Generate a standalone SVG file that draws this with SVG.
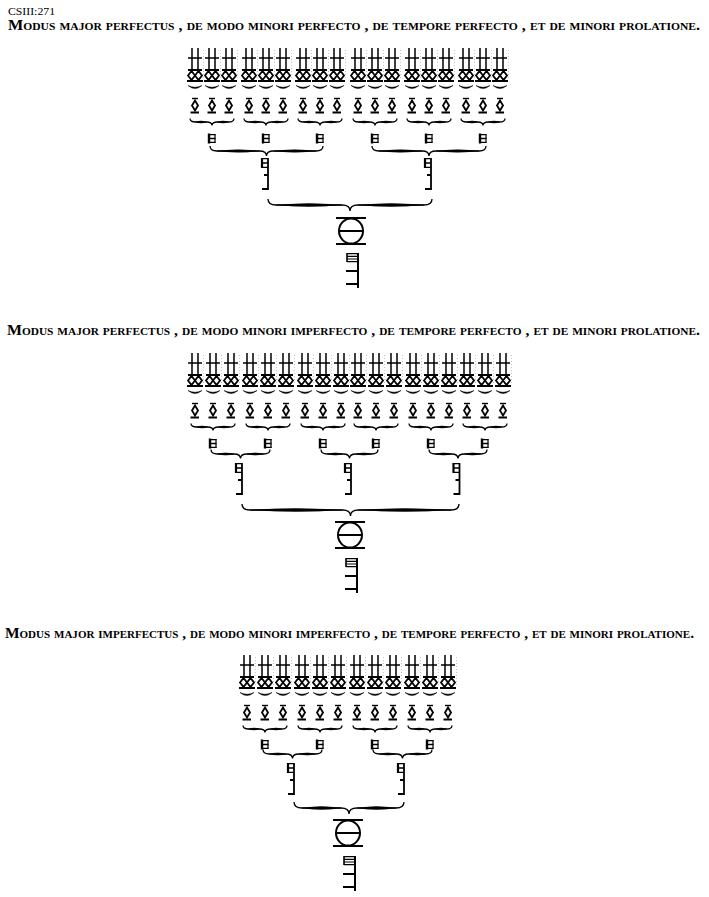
<svg xmlns="http://www.w3.org/2000/svg" width="709" height="897" viewBox="0 0 709 897">
<style>
.k{fill:none;stroke:#000}
.f{fill:#000;stroke:#000;stroke-width:0.5}
.t{font-family:"Liberation Serif","Times New Roman",serif;font-weight:bold;font-size:14px;font-variant:small-caps;fill:#000}
.c{font-family:"Liberation Serif","Times New Roman",serif;font-size:10.5px;fill:#000}
.br{fill:none;stroke:#000;stroke-width:1.3}
</style>
<defs>
<g id="minims" class="k">
<path d="M-3,0V22M3,0V22M-7,10H7" stroke-width="1.5"/>
<path d="M-7,22H7M-8,33H8" stroke-width="2"/>
<path d="M-7,27.5L-3.5,23L0,27.5L3.5,32L7,27.5L3.5,23L0,27.5L-3.5,32Z" stroke-width="1.8"/>
<path d="M8.5,2V30" stroke-width="0.6" stroke-dasharray="0.8 2.2" stroke="#888"/>
</g>
<g id="sb" class="k">
<path d="M-3,0.5H3" stroke-width="1.4"/>
<path d="M0,2.5L3,7.5L0,12.5L-3,7.5Z" stroke-width="1.8"/>
<path d="M-4.5,14.5H4" stroke-width="2"/>
</g>
<g id="breve" class="k">
<path d="M-3,-0.5V9.5" stroke-width="2.4"/>
<path d="M3,0V9" stroke-width="1.2"/>
<path d="M-3,0.6H3.5M-3,4.5H3.5M-3,8.4H3.5" stroke-width="1.4"/>
</g>
<g id="longa" class="k">
<path d="M0,0V32" stroke-width="1.8"/>
<path d="M-6,0V10" stroke-width="2.2"/>
<path d="M-6,0.6H0M-6,5H0M-6,9.4H0" stroke-width="1.4"/>
<path d="M-4,17H0M-6,31H0" stroke-width="2"/>
</g>
<g id="maxima" class="k" stroke-width="2">
<ellipse rx="12" ry="12.5"/>
<path d="M-12,0H12M-15,-13H15M-15,13H15"/>
</g>
<g id="longab" class="k">
<path d="M0,0V35" stroke-width="2"/>
<path d="M-11,0V9" stroke-width="1.6"/>
<path d="M-11,0.6H0M-11,3.3H0M-11,6H0M-11,8.7H0" stroke-width="1.2"/>
<path d="M-12,18H0M-12,31H0" stroke-width="2"/>
</g>
<g id="sbr"><path class="f" d="M-7,-0.5Q0,5.5 7,-0.5Q0,3 -7,-0.5Z"/></g>
<g id="gbr"><path class="br" d="M-22,-3.5C-22,-1.2 -20,0 -16.5,0L-5.5,0C-2,0 0,1.2 0,3.5C0,1.2 2,0 5.5,0L16.5,0C20,0 22,-1.2 22,-3.5"/><path class="f" d="M-16.5,0Q-11,-2 -5.5,0Q-11,2 -16.5,0ZM5.5,0Q11,-2 16.5,0Q11,2 5.5,0Z"/></g>
</defs>
<rect width="709" height="897" fill="#fff"/>

<text class="c" x="8" y="15" textLength="47" lengthAdjust="spacingAndGlyphs">CSIII:271</text>
<text class="t" x="8" y="30" textLength="692" lengthAdjust="spacingAndGlyphs">Modus major perfectus , de modo minori perfecto , de tempore perfecto , et de minori prolatione.</text>
<text class="t" x="7" y="335" textLength="693" lengthAdjust="spacingAndGlyphs">Modus major perfectus , de modo minori imperfecto , de tempore perfecto , et de minori prolatione.</text>
<text class="t" x="5" y="638" textLength="689" lengthAdjust="spacingAndGlyphs">Modus major imperfectus , de modo minori imperfecto , de tempore perfecto , et de minori prolatione.</text>

<!-- Section 1 nodes -->
<g id="s1-minims">
<g id="s1-m1"><use href="#minims" x="195" y="48"/></g>
<g id="s1-m2"><use href="#minims" x="212" y="48"/></g>
<g id="s1-m3"><use href="#minims" x="229" y="48"/></g>
<g id="s1-m4"><use href="#minims" x="249" y="48"/></g>
<g id="s1-m5"><use href="#minims" x="266" y="48"/></g>
<g id="s1-m6"><use href="#minims" x="283" y="48"/></g>
<g id="s1-m7"><use href="#minims" x="303" y="48"/></g>
<g id="s1-m8"><use href="#minims" x="320" y="48"/></g>
<g id="s1-m9"><use href="#minims" x="337" y="48"/></g>
<g id="s1-m10"><use href="#minims" x="358" y="48"/></g>
<g id="s1-m11"><use href="#minims" x="375" y="48"/></g>
<g id="s1-m12"><use href="#minims" x="392" y="48"/></g>
<g id="s1-m13"><use href="#minims" x="412" y="48"/></g>
<g id="s1-m14"><use href="#minims" x="429" y="48"/></g>
<g id="s1-m15"><use href="#minims" x="446" y="48"/></g>
<g id="s1-m16"><use href="#minims" x="466" y="48"/></g>
<g id="s1-m17"><use href="#minims" x="483" y="48"/></g>
<g id="s1-m18"><use href="#minims" x="500" y="48"/></g>
</g>
<g id="s1-semibreves">
<g id="s1-sb1"><use href="#sb" x="195" y="98"/></g>
<g id="s1-sb2"><use href="#sb" x="212" y="98"/></g>
<g id="s1-sb3"><use href="#sb" x="229" y="98"/></g>
<g id="s1-sb4"><use href="#sb" x="249" y="98"/></g>
<g id="s1-sb5"><use href="#sb" x="266" y="98"/></g>
<g id="s1-sb6"><use href="#sb" x="283" y="98"/></g>
<g id="s1-sb7"><use href="#sb" x="303" y="98"/></g>
<g id="s1-sb8"><use href="#sb" x="320" y="98"/></g>
<g id="s1-sb9"><use href="#sb" x="337" y="98"/></g>
<g id="s1-sb10"><use href="#sb" x="358" y="98"/></g>
<g id="s1-sb11"><use href="#sb" x="375" y="98"/></g>
<g id="s1-sb12"><use href="#sb" x="392" y="98"/></g>
<g id="s1-sb13"><use href="#sb" x="412" y="98"/></g>
<g id="s1-sb14"><use href="#sb" x="429" y="98"/></g>
<g id="s1-sb15"><use href="#sb" x="446" y="98"/></g>
<g id="s1-sb16"><use href="#sb" x="466" y="98"/></g>
<g id="s1-sb17"><use href="#sb" x="483" y="98"/></g>
<g id="s1-sb18"><use href="#sb" x="500" y="98"/></g>
</g>
<g id="s1-breves">
<g id="s1-b1"><use href="#breve" x="212" y="134"/></g>
<g id="s1-b2"><use href="#breve" x="266" y="134"/></g>
<g id="s1-b3"><use href="#breve" x="320" y="134"/></g>
<g id="s1-b4"><use href="#breve" x="375" y="134"/></g>
<g id="s1-b5"><use href="#breve" x="429" y="134"/></g>
<g id="s1-b6"><use href="#breve" x="483" y="134"/></g>
</g>
<g id="s1-l1"><use href="#longa" x="268" y="158"/></g>
<g id="s1-l2"><use href="#longa" x="431" y="158"/></g>
<g id="s1-max"><use href="#maxima" x="351" y="231"/></g>
<g id="s1-sign"><use href="#longab" x="358" y="253"/></g>

<!-- Section 2 nodes -->
<g id="s2-minims">
<g id="s2-m1"><use href="#minims" x="195" y="353"/></g>
<g id="s2-m2"><use href="#minims" x="213" y="353"/></g>
<g id="s2-m3"><use href="#minims" x="231" y="353"/></g>
<g id="s2-m4"><use href="#minims" x="250" y="353"/></g>
<g id="s2-m5"><use href="#minims" x="268" y="353"/></g>
<g id="s2-m6"><use href="#minims" x="286" y="353"/></g>
<g id="s2-m7"><use href="#minims" x="305" y="353"/></g>
<g id="s2-m8"><use href="#minims" x="323" y="353"/></g>
<g id="s2-m9"><use href="#minims" x="341" y="353"/></g>
<g id="s2-m10"><use href="#minims" x="358" y="353"/></g>
<g id="s2-m11"><use href="#minims" x="376" y="353"/></g>
<g id="s2-m12"><use href="#minims" x="394" y="353"/></g>
<g id="s2-m13"><use href="#minims" x="413" y="353"/></g>
<g id="s2-m14"><use href="#minims" x="431" y="353"/></g>
<g id="s2-m15"><use href="#minims" x="449" y="353"/></g>
<g id="s2-m16"><use href="#minims" x="467" y="353"/></g>
<g id="s2-m17"><use href="#minims" x="485" y="353"/></g>
<g id="s2-m18"><use href="#minims" x="503" y="353"/></g>
</g>
<g id="s2-semibreves">
<g id="s2-sb1"><use href="#sb" x="195" y="403"/></g>
<g id="s2-sb2"><use href="#sb" x="213" y="403"/></g>
<g id="s2-sb3"><use href="#sb" x="231" y="403"/></g>
<g id="s2-sb4"><use href="#sb" x="250" y="403"/></g>
<g id="s2-sb5"><use href="#sb" x="268" y="403"/></g>
<g id="s2-sb6"><use href="#sb" x="286" y="403"/></g>
<g id="s2-sb7"><use href="#sb" x="305" y="403"/></g>
<g id="s2-sb8"><use href="#sb" x="323" y="403"/></g>
<g id="s2-sb9"><use href="#sb" x="341" y="403"/></g>
<g id="s2-sb10"><use href="#sb" x="358" y="403"/></g>
<g id="s2-sb11"><use href="#sb" x="376" y="403"/></g>
<g id="s2-sb12"><use href="#sb" x="394" y="403"/></g>
<g id="s2-sb13"><use href="#sb" x="413" y="403"/></g>
<g id="s2-sb14"><use href="#sb" x="431" y="403"/></g>
<g id="s2-sb15"><use href="#sb" x="449" y="403"/></g>
<g id="s2-sb16"><use href="#sb" x="467" y="403"/></g>
<g id="s2-sb17"><use href="#sb" x="485" y="403"/></g>
<g id="s2-sb18"><use href="#sb" x="503" y="403"/></g>
</g>
<g id="s2-breves">
<g id="s2-b1"><use href="#breve" x="213" y="439"/></g>
<g id="s2-b2"><use href="#breve" x="268" y="439"/></g>
<g id="s2-b3"><use href="#breve" x="323" y="439"/></g>
<g id="s2-b4"><use href="#breve" x="376" y="439"/></g>
<g id="s2-b5"><use href="#breve" x="431" y="439"/></g>
<g id="s2-b6"><use href="#breve" x="485" y="439"/></g>
</g>
<g id="s2-l1"><use href="#longa" x="242" y="463"/></g>
<g id="s2-l2"><use href="#longa" x="351" y="463"/></g>
<g id="s2-l3"><use href="#longa" x="459.5" y="463"/></g>
<g id="s2-max"><use href="#maxima" x="350" y="535"/></g>
<g id="s2-sign"><use href="#longab" x="357" y="558"/></g>

<!-- Section 3 nodes -->
<g id="s3-minims">
<g id="s3-m1"><use href="#minims" x="247" y="655"/></g>
<g id="s3-m2"><use href="#minims" x="265" y="655"/></g>
<g id="s3-m3"><use href="#minims" x="283" y="655"/></g>
<g id="s3-m4"><use href="#minims" x="302" y="655"/></g>
<g id="s3-m5"><use href="#minims" x="320" y="655"/></g>
<g id="s3-m6"><use href="#minims" x="338" y="655"/></g>
<g id="s3-m7"><use href="#minims" x="357" y="655"/></g>
<g id="s3-m8"><use href="#minims" x="375" y="655"/></g>
<g id="s3-m9"><use href="#minims" x="393" y="655"/></g>
<g id="s3-m10"><use href="#minims" x="412" y="655"/></g>
<g id="s3-m11"><use href="#minims" x="430" y="655"/></g>
<g id="s3-m12"><use href="#minims" x="448" y="655"/></g>
</g>
<g id="s3-semibreves">
<g id="s3-sb1"><use href="#sb" x="247" y="705"/></g>
<g id="s3-sb2"><use href="#sb" x="265" y="705"/></g>
<g id="s3-sb3"><use href="#sb" x="283" y="705"/></g>
<g id="s3-sb4"><use href="#sb" x="302" y="705"/></g>
<g id="s3-sb5"><use href="#sb" x="320" y="705"/></g>
<g id="s3-sb6"><use href="#sb" x="338" y="705"/></g>
<g id="s3-sb7"><use href="#sb" x="357" y="705"/></g>
<g id="s3-sb8"><use href="#sb" x="375" y="705"/></g>
<g id="s3-sb9"><use href="#sb" x="393" y="705"/></g>
<g id="s3-sb10"><use href="#sb" x="412" y="705"/></g>
<g id="s3-sb11"><use href="#sb" x="430" y="705"/></g>
<g id="s3-sb12"><use href="#sb" x="448" y="705"/></g>
</g>
<g id="s3-breves">
<g id="s3-b1"><use href="#breve" x="265" y="740"/></g>
<g id="s3-b2"><use href="#breve" x="320" y="740"/></g>
<g id="s3-b3"><use href="#breve" x="375" y="740"/></g>
<g id="s3-b4"><use href="#breve" x="430" y="740"/></g>
</g>
<g id="s3-l1"><use href="#longa" x="294" y="763"/></g>
<g id="s3-l2"><use href="#longa" x="404" y="763"/></g>
<g id="s3-max"><use href="#maxima" x="348" y="833"/></g>
<g id="s3-sign"><use href="#longab" x="355" y="856"/></g>

<!-- Connectors (braces) -->
<g id="connectors">
<g id="s1-small-braces">
<use href="#sbr" x="195" y="86"/><use href="#sbr" x="212" y="86"/><use href="#sbr" x="229" y="86"/>
<use href="#sbr" x="249" y="86"/><use href="#sbr" x="266" y="86"/><use href="#sbr" x="283" y="86"/>
<use href="#sbr" x="303" y="86"/><use href="#sbr" x="320" y="86"/><use href="#sbr" x="337" y="86"/>
<use href="#sbr" x="358" y="86"/><use href="#sbr" x="375" y="86"/><use href="#sbr" x="392" y="86"/>
<use href="#sbr" x="412" y="86"/><use href="#sbr" x="429" y="86"/><use href="#sbr" x="446" y="86"/>
<use href="#sbr" x="466" y="86"/><use href="#sbr" x="483" y="86"/><use href="#sbr" x="500" y="86"/>
</g>
<g id="s1-group-braces">
<use href="#gbr" x="212" y="122"/><use href="#gbr" x="266" y="122"/><use href="#gbr" x="320" y="122"/>
<use href="#gbr" x="375" y="122"/><use href="#gbr" x="429" y="122"/><use href="#gbr" x="483" y="122"/>
</g>
<g id="s1-pair-braces">
<path class="br" d="M210,146C210,149.3 212,151 217,151L259.5,151C264.5,151 266.5,152.7 266.5,156C266.5,152.7 268.5,151 273.5,151L316,151C321,151 323,149.3 323,146"/>
<path class="f" d="M217,151Q238.25,148.5 259.5,151Q238.25,153.5 217,151ZM273.5,151Q294.75,148.5 316,151Q294.75,153.5 273.5,151Z"/>
<path class="br" d="M372,146C372,149.3 374,151 379,151L422,151C427,151 429,152.7 429,156C429,152.7 431,151 436,151L479,151C484,151 486,149.3 486,146"/>
<path class="f" d="M379,151Q400.5,148.5 422,151Q400.5,153.5 379,151ZM436,151Q457.5,148.5 479,151Q457.5,153.5 436,151Z"/>
</g>
<g id="s1-big-brace">
<path class="br" d="M268,199C268,203 270,205 276,205L342,205C348,205 350,207 350,211C350,207 352,205 358,205L424,205C430,205 432,203 432,199"/>
<path class="f" d="M276,205Q309,202 342,205Q309,208 276,205ZM358,205Q391,202 424,205Q391,208 358,205Z"/>
</g>

<g id="s2-small-braces">
<use href="#sbr" x="195" y="391"/><use href="#sbr" x="213" y="391"/><use href="#sbr" x="231" y="391"/>
<use href="#sbr" x="250" y="391"/><use href="#sbr" x="268" y="391"/><use href="#sbr" x="286" y="391"/>
<use href="#sbr" x="305" y="391"/><use href="#sbr" x="323" y="391"/><use href="#sbr" x="341" y="391"/>
<use href="#sbr" x="358" y="391"/><use href="#sbr" x="376" y="391"/><use href="#sbr" x="394" y="391"/>
<use href="#sbr" x="413" y="391"/><use href="#sbr" x="431" y="391"/><use href="#sbr" x="449" y="391"/>
<use href="#sbr" x="467" y="391"/><use href="#sbr" x="485" y="391"/><use href="#sbr" x="503" y="391"/>
</g>
<g id="s2-group-braces">
<use href="#gbr" x="213" y="427"/><use href="#gbr" x="268" y="427"/><use href="#gbr" x="323" y="427"/>
<use href="#gbr" x="376" y="427"/><use href="#gbr" x="431" y="427"/><use href="#gbr" x="485" y="427"/>
</g>
<g id="s2-pair-braces">
<path class="br" d="M211,449.5C211,452.5 213,454 217.5,454L234,454C238.5,454 240.5,455.5 240.5,458.5C240.5,455.5 242.5,454 247,454L263.5,454C268,454 270,452.5 270,449.5"/>
<path class="f" d="M217.5,454Q225.75,451.8 234,454Q225.75,456.2 217.5,454ZM247,454Q255.25,451.8 263.5,454Q255.25,456.2 247,454Z"/>
<path class="br" d="M321,449.5C321,452.5 323,454 327.5,454L343,454C347.5,454 349.5,455.5 349.5,458.5C349.5,455.5 351.5,454 356,454L371.5,454C376,454 378,452.5 378,449.5"/>
<path class="f" d="M327.5,454Q335.25,451.8 343,454Q335.25,456.2 327.5,454ZM356,454Q363.75,451.8 371.5,454Q363.75,456.2 356,454Z"/>
<path class="br" d="M429,449.5C429,452.5 431,454 435.5,454L451.5,454C456,454 458,455.5 458,458.5C458,455.5 460,454 464.5,454L480.5,454C485,454 487,452.5 487,449.5"/>
<path class="f" d="M435.5,454Q443.5,451.8 451.5,454Q443.5,456.2 435.5,454ZM464.5,454Q472.5,451.8 480.5,454Q472.5,456.2 464.5,454Z"/>
</g>
<g id="s2-big-brace">
<path class="br" d="M242,504C242,508 244,510 250,510L342.5,510C348.5,510 350.5,512 350.5,516C350.5,512 352.5,510 358.5,510L451,510C457,510 459,508 459,504"/>
<path class="f" d="M250,510Q296.25,507 342.5,510Q296.25,513 250,510ZM358.5,510Q404.75,507 451,510Q404.75,513 358.5,510Z"/>
</g>

<g id="s3-small-braces">
<use href="#sbr" x="247" y="693"/><use href="#sbr" x="265" y="693"/><use href="#sbr" x="283" y="693"/>
<use href="#sbr" x="302" y="693"/><use href="#sbr" x="320" y="693"/><use href="#sbr" x="338" y="693"/>
<use href="#sbr" x="357" y="693"/><use href="#sbr" x="375" y="693"/><use href="#sbr" x="393" y="693"/>
<use href="#sbr" x="412" y="693"/><use href="#sbr" x="430" y="693"/><use href="#sbr" x="448" y="693"/>
</g>
<g id="s3-group-braces">
<use href="#gbr" x="265" y="729"/><use href="#gbr" x="320" y="729"/><use href="#gbr" x="375" y="729"/><use href="#gbr" x="430" y="729"/>
</g>
<g id="s3-pair-braces">
<path class="br" d="M263,749.5C263,752.5 265,754 269.5,754L286,754C290.5,754 292.5,755.5 292.5,758.5C292.5,755.5 294.5,754 299,754L315.5,754C320,754 322,752.5 322,749.5"/>
<path class="f" d="M269.5,754Q277.75,751.8 286,754Q277.75,756.2 269.5,754ZM299,754Q307.25,751.8 315.5,754Q307.25,756.2 299,754Z"/>
<path class="br" d="M373,749.5C373,752.5 375,754 379.5,754L396,754C400.5,754 402.5,755.5 402.5,758.5C402.5,755.5 404.5,754 409,754L425.5,754C430,754 432,752.5 432,749.5"/>
<path class="f" d="M379.5,754Q387.75,751.8 396,754Q387.75,756.2 379.5,754ZM409,754Q417.25,751.8 425.5,754Q417.25,756.2 409,754Z"/>
</g>
<g id="s3-big-brace">
<path class="br" d="M294,802C294,806 296,808 302,808L341,808C347,808 349,810 349,814C349,810 351,808 357,808L396,808C402,808 404,806 404,802"/>
<path class="f" d="M302,808Q321.5,805 341,808Q321.5,811 302,808ZM357,808Q376.5,805 396,808Q376.5,811 357,808Z"/>
</g>
</g>
</svg>
